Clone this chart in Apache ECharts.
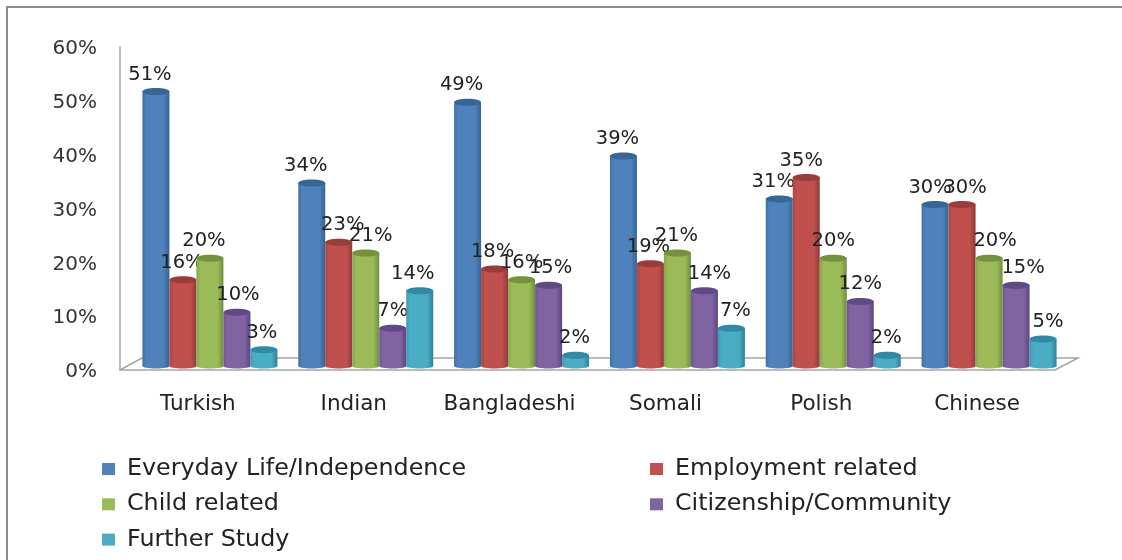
<!DOCTYPE html>
<html>
<head>
<meta charset="utf-8">
<style>html,body{margin:0;padding:0;background:#fff}#c{width:1122px;height:560px;filter:blur(0.5px)}</style>
<script src="https://cdn.jsdelivr.net/npm/echarts@6/dist/echarts.min.js"></script>
</head>
<body>
<div id="c"></div>
<script>
const categories = ['Turkish', 'Indian', 'Bangladeshi', 'Somali', 'Polish', 'Chinese'];
const yTicks = [0, 10, 20, 30, 40, 50, 60];
const everyday = [51, 34, 49, 39, 31, 30];
const employment = [16, 23, 18, 19, 35, 30];
const child = [20, 21, 16, 21, 20, 20];
const citizenship = [10, 7, 15, 14, 12, 15];
const furtherStudy = [3, 14, 2, 7, 2, 5];

const seriesNames = ['Everyday Life/Independence', 'Employment related', 'Child related', 'Citizenship/Community', 'Further Study'];
const seriesValues = [everyday, employment, child, citizenship, furtherStudy];
const colors = ['#4F81BD', '#C0504D', '#9BBB59', '#8064A2', '#4BACC6'];
const lefts = ['#447099', '#A84643', '#88A54D', '#70588F', '#3F9AB3'];
const darks = ['#386392', '#8E3A38', '#718C3F', '#5C4580', '#2F8099'];
const caps = ['#376596', '#9A3D3A', '#75923A', '#604A86', '#2F8AA6'];

// horizontal nudges of the value labels, matching the overlaps in the original
const labelShift = [
  [-6, -6, -6, -6, -6, -5],
  [-1, 4, -2, -2, -5, 3],
  [-6, 5, 0, -1, 0, 6],
  [1, 0, 2, 5, 0, 7],
  [-2, -7, -1, 4, -1, 5]
];

const BAR_W = 27, DEPTH_X = 12, DEPTH_Y = -4, RY = 3.5;

function barRender(si) {
  return function (params, api) {
    const ci = api.value(0), v = api.value(1);
    const top = api.coord([ci, v]);
    const base = api.coord([ci, 0]);
    const cx = top[0] + DEPTH_X + (si - 2) * BAR_W;
    const x = cx - BAR_W / 2;
    const yT = top[1] + DEPTH_Y, yB = base[1] + DEPTH_Y;
    const grad = new echarts.graphic.LinearGradient(0, 0, 1, 0, [
      { offset: 0, color: lefts[si] },
      { offset: 0.15, color: colors[si] },
      { offset: 0.78, color: colors[si] },
      { offset: 1, color: darks[si] }
    ]);
    return {
      type: 'group',
      children: [
        { type: 'ellipse', shape: { cx: cx, cy: yB, rx: BAR_W / 2, ry: RY - 1 }, style: { fill: grad } },
        { type: 'rect', shape: { x: x, y: yT, width: BAR_W, height: yB - yT }, style: { fill: grad } },
        { type: 'ellipse', shape: { cx: cx, cy: yT, rx: BAR_W / 2, ry: RY }, style: { fill: caps[si] } },
        { type: 'text', z2: 100, style: {
            x: cx + labelShift[si][ci], y: yT - 17, text: v + '%',
            fill: '#222', font: '19.5px "DejaVu Sans"', align: 'center', verticalAlign: 'middle'
        } }
      ]
    };
  };
}

function floorRender(params, api) {
  const l = api.coord([0, 0]), size = api.size([1, 0]);
  const x0 = l[0] - size[0] / 2, x1 = x0 + size[0] * categories.length, y = l[1];
  return {
    type: 'polyline',
    shape: { points: [[x0, y], [x0 + 22, y - 12], [x1 + 23, y - 12], [x1, y]] },
    style: { fill: 'none', stroke: '#A6A6A6', lineWidth: 1.5 }
  };
}

const series = [{
  type: 'custom', name: 'floor', silent: true, z: 1,
  coordinateSystem: 'cartesian2d', data: [[0, 0]], renderItem: floorRender
}];
seriesNames.forEach(function (name, si) {
  series.push({
    type: 'custom', name: name, z: 2 + si,
    coordinateSystem: 'cartesian2d',
    itemStyle: { color: colors[si] },
    encode: { x: 0, y: 1 },
    data: seriesValues[si].map(function (v, ci) { return [ci, v]; }),
    renderItem: barRender(si)
  });
});

const legendText = { fontFamily: 'DejaVu Sans', fontSize: 23.8, color: '#222', padding: [0, 0, 0, 7] };
const chart = echarts.init(document.getElementById('c'));
chart.setOption({
  animation: false,
  backgroundColor: '#fff',
  graphic: [
    { type: 'polyline', silent: true, shape: { points: [[7, 560], [7, 7], [1122, 7]] },
      style: { fill: 'none', stroke: '#8C8C8C', lineWidth: 2 } }
  ],
  grid: { left: 120, right: 67, top: 47, bottom: 190 },
  xAxis: {
    type: 'category', data: categories,
    axisLine: { lineStyle: { color: '#A6A6A6', width: 1.5 } },
    axisTick: { show: false },
    axisLabel: { fontFamily: 'DejaVu Sans', fontSize: 21.5, color: '#222', margin: 23, interval: 0 }
  },
  yAxis: {
    type: 'value', min: yTicks[0], max: yTicks[yTicks.length - 1], interval: 10,
    splitLine: { show: false },
    axisLine: { show: true, lineStyle: { color: '#A6A6A6', width: 1.5 } },
    axisTick: { show: false },
    axisLabel: { fontFamily: 'DejaVu Sans', fontSize: 20, color: '#333', margin: 23, verticalAlign: 'top', lineHeight: 4, formatter: '{value}%' }
  },
  legend: [
    { orient: 'vertical', left: 97, top: 452, itemGap: 11.3, itemWidth: 13, itemHeight: 12, icon: 'rect',
      selectedMode: false, textStyle: legendText, data: [seriesNames[0], seriesNames[2], seriesNames[4]] },
    { orient: 'vertical', left: 645, top: 452, itemGap: 11.3, itemWidth: 13, itemHeight: 12, icon: 'rect',
      selectedMode: false, textStyle: legendText, data: [seriesNames[1], seriesNames[3]] }
  ],
  series: series
});
</script>
</body>
</html>
